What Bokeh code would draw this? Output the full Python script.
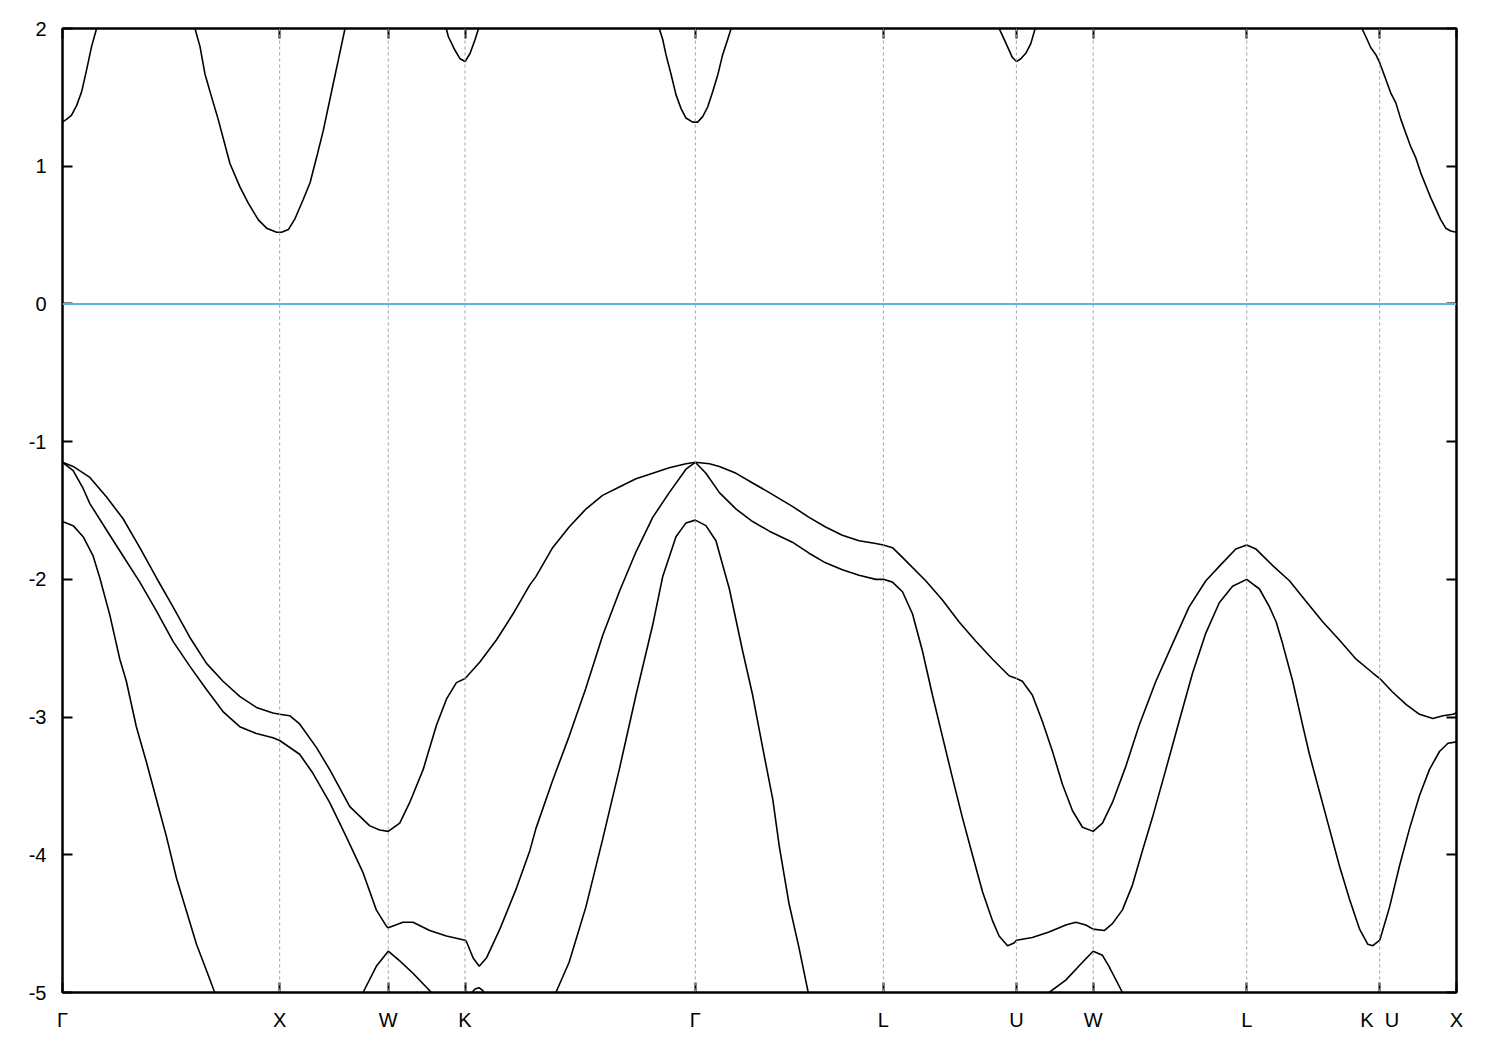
from bokeh.plotting import figure
from bokeh.models import Range1d, FixedTicker, LinearAxis, Span
from bokeh.embed import file_html
from bokeh.resources import INLINE

# high-symmetry points (path distance) and labels
kpt_pos = [0.0, 1.0, 1.5, 1.8536, 2.9142, 3.7802, 4.3926, 4.7462, 5.4533, 6.0657, 6.4193]
kpt_labels = ["Γ", "X", "W", "K", "Γ", "L", "U", "W", "L", "K\u00a0\u00a0U", "X"]
y_ticks = [-5, -4, -3, -2, -1, 0, 1, 2]
fermi_level = 0.0

# valence band 1 (top)
v1_k = [0, 0.049, 0.126, 0.202, 0.279, 0.356, 0.433, 0.509, 0.586, 0.663, 0.739, 0.816, 0.893, 0.969, 1.0,
        1.046, 1.092, 1.169, 1.230, 1.323, 1.415, 1.461, 1.5, 1.553, 1.599, 1.661, 1.722, 1.768, 1.814, 1.854,
        1.922, 1.998, 2.075, 2.152, 2.180, 2.257, 2.333, 2.410, 2.487, 2.564, 2.641, 2.718, 2.794, 2.871, 2.914,
        2.979, 3.025, 3.102, 3.178, 3.255, 3.361, 3.438, 3.514, 3.591, 3.668, 3.745, 3.780, 3.822, 3.868, 3.975,
        4.052, 4.129, 4.206, 4.283, 4.359, 4.393, 4.420, 4.466, 4.512, 4.559, 4.605, 4.651, 4.697, 4.746, 4.789,
        4.835, 4.896, 4.958, 5.035, 5.111, 5.188, 5.265, 5.342, 5.403, 5.453, 5.496, 5.573, 5.650, 5.727, 5.804,
        5.880, 5.957, 6.034, 6.066, 6.126, 6.188, 6.249, 6.310, 6.357, 6.403, 6.419]
v1_e = [-1.15, -1.18, -1.26, -1.40, -1.56, -1.77, -1.99, -2.20, -2.42, -2.61, -2.74, -2.85, -2.93, -2.97, -2.98,
        -2.99, -3.05, -3.22, -3.38, -3.65, -3.79, -3.82, -3.83, -3.77, -3.62, -3.38, -3.06, -2.87, -2.75, -2.72,
        -2.60, -2.44, -2.25, -2.04, -1.98, -1.77, -1.62, -1.49, -1.39, -1.33, -1.27, -1.23, -1.19, -1.16, -1.15,
        -1.16, -1.18, -1.23, -1.30, -1.37, -1.47, -1.55, -1.62, -1.68, -1.72, -1.74, -1.75, -1.77, -1.84, -2.01,
        -2.15, -2.31, -2.45, -2.58, -2.70, -2.72, -2.74, -2.84, -3.03, -3.25, -3.49, -3.68, -3.80, -3.83, -3.77,
        -3.62, -3.36, -3.06, -2.74, -2.47, -2.20, -2.01, -1.88, -1.78, -1.75, -1.78, -1.90, -2.01, -2.16, -2.31,
        -2.44, -2.58, -2.68, -2.72, -2.82, -2.91, -2.98, -3.01, -2.99, -2.98, -2.97]

# valence band 2
v2_k = [0, 0.049, 0.095, 0.126, 0.202, 0.279, 0.356, 0.433, 0.509, 0.586, 0.663, 0.739, 0.816, 0.893, 0.969, 1.0,
        1.092, 1.154, 1.230, 1.307, 1.384, 1.445, 1.492, 1.5, 1.568, 1.614, 1.691, 1.768, 1.854, 1.860, 1.891,
        1.919, 1.952, 2.014, 2.091, 2.152, 2.180, 2.257, 2.333, 2.410, 2.487, 2.564, 2.641, 2.718, 2.794, 2.871,
        2.914, 2.963, 3.025, 3.102, 3.178, 3.255, 3.361, 3.438, 3.514, 3.591, 3.668, 3.745, 3.780, 3.822, 3.868,
        3.914, 3.960, 4.006, 4.052, 4.098, 4.144, 4.190, 4.237, 4.283, 4.313, 4.352, 4.382, 4.393, 4.466, 4.543,
        4.620, 4.666, 4.712, 4.746, 4.797, 4.835, 4.881, 4.927, 4.973, 5.019, 5.081, 5.142, 5.204, 5.265, 5.327,
        5.388, 5.453, 5.512, 5.558, 5.589, 5.619, 5.665, 5.711, 5.742, 5.788, 5.834, 5.880, 5.926, 5.973, 6.011,
        6.034, 6.066, 6.111, 6.157, 6.203, 6.249, 6.295, 6.341, 6.380, 6.419]
v2_e = [-1.15, -1.21, -1.34, -1.45, -1.64, -1.83, -2.02, -2.23, -2.45, -2.63, -2.80, -2.96, -3.07, -3.12, -3.15, -3.17,
        -3.27, -3.41, -3.62, -3.87, -4.13, -4.40, -4.52, -4.53, -4.49, -4.49, -4.55, -4.59, -4.62, -4.63, -4.75,
        -4.81, -4.75, -4.54, -4.24, -3.97, -3.81, -3.46, -3.14, -2.79, -2.41, -2.09, -1.80, -1.55, -1.37, -1.20,
        -1.15, -1.23, -1.37, -1.49, -1.58, -1.65, -1.73, -1.81, -1.88, -1.93, -1.97, -2.00, -2.00, -2.02, -2.09,
        -2.25, -2.52, -2.84, -3.14, -3.44, -3.73, -4.00, -4.27, -4.48, -4.59, -4.66, -4.64, -4.62, -4.60, -4.56,
        -4.51, -4.49, -4.51, -4.54, -4.55, -4.50, -4.40, -4.22, -3.97, -3.73, -3.38, -3.03, -2.68, -2.39, -2.17,
        -2.05, -2.00, -2.07, -2.20, -2.31, -2.47, -2.74, -3.06, -3.27, -3.54, -3.81, -4.08, -4.32, -4.54, -4.65,
        -4.66, -4.62, -4.38, -4.08, -3.81, -3.57, -3.38, -3.25, -3.19, -3.18]

# valence band 3 (split-off), two visible pieces
v3a_k = [0, 0.049, 0.095, 0.141, 0.172, 0.218, 0.264, 0.294, 0.340, 0.387, 0.433, 0.479, 0.525, 0.571, 0.617, 0.663, 0.701, 0.74]
v3a_e = [-1.58, -1.61, -1.69, -1.83, -1.99, -2.26, -2.58, -2.74, -3.07, -3.33, -3.60, -3.87, -4.17, -4.41, -4.65, -4.84, -5.0, -5.15]
v3b_k = [2.24, 2.272, 2.333, 2.410, 2.487, 2.564, 2.641, 2.718, 2.764, 2.825, 2.871, 2.914, 2.963, 3.009, 3.071, 3.132,
         3.178, 3.224, 3.271, 3.301, 3.345, 3.391, 3.434, 3.46]
v3b_e = [-5.1, -5.0, -4.78, -4.38, -3.89, -3.38, -2.84, -2.33, -1.98, -1.69, -1.59, -1.57, -1.61, -1.72, -2.07, -2.52,
         -2.84, -3.22, -3.60, -3.94, -4.35, -4.67, -5.0, -5.15]

# valence band 4, pieces that reach above -5 eV
v4a_k = [1.35, 1.384, 1.445, 1.5, 1.553, 1.614, 1.699, 1.75]
v4a_e = [-5.1, -5.0, -4.81, -4.70, -4.77, -4.86, -5.0, -5.1]
v4b_k = [1.87, 1.885, 1.90, 1.918, 1.935, 1.945]
v4b_e = [-5.04, -5.0, -4.975, -4.965, -4.985, -5.02]
v4c_k = [4.50, 4.543, 4.620, 4.697, 4.746, 4.789, 4.819, 4.881, 4.91]
v4c_e = [-5.1, -5.0, -4.91, -4.78, -4.70, -4.73, -4.81, -5.0, -5.1]

# conduction band pieces below 2 eV
c_a_k = [0, 0.018, 0.041, 0.065, 0.088, 0.111, 0.134, 0.157, 0.18]
c_a_e = [1.32, 1.34, 1.37, 1.44, 1.54, 1.70, 1.87, 2.0, 2.13]
c_b_k = [0.58, 0.610, 0.633, 0.656, 0.687, 0.717, 0.771, 0.817, 0.856, 0.902, 0.940, 0.986, 1.0, 1.009, 1.040,
         1.071, 1.109, 1.140, 1.171, 1.201, 1.240, 1.270, 1.301, 1.32]
c_b_e = [2.1, 2.0, 1.87, 1.67, 1.50, 1.34, 1.02, 0.85, 0.73, 0.61, 0.55, 0.52, 0.52, 0.52, 0.54,
         0.62, 0.76, 0.88, 1.07, 1.26, 1.55, 1.77, 2.0, 2.13]
c_c_k = [1.75, 1.767, 1.777, 1.808, 1.831, 1.854, 1.877, 1.900, 1.916, 1.93]
c_c_e = [2.06, 2.0, 1.94, 1.84, 1.78, 1.76, 1.82, 1.92, 2.0, 2.06]
c_d_k = [2.73, 2.748, 2.764, 2.779, 2.802, 2.825, 2.848, 2.871, 2.902, 2.914, 2.925, 2.948, 2.971, 2.994, 3.017,
         3.040, 3.063, 3.079, 3.095]
c_d_e = [2.07, 2.0, 1.92, 1.81, 1.67, 1.52, 1.42, 1.35, 1.32, 1.32, 1.32, 1.36, 1.43, 1.54, 1.66,
         1.81, 1.92, 2.0, 2.07]
c_e_k = [4.30, 4.313, 4.328, 4.351, 4.374, 4.393, 4.413, 4.436, 4.459, 4.479, 4.49]
c_e_e = [2.04, 2.0, 1.95, 1.87, 1.79, 1.76, 1.78, 1.82, 1.89, 2.0, 2.05]
c_f_k = [5.97, 5.984, 6.002, 6.025, 6.048, 6.066, 6.094, 6.117, 6.140, 6.163, 6.186, 6.209, 6.232, 6.255, 6.278,
         6.301, 6.324, 6.347, 6.370, 6.393, 6.419]
c_f_e = [2.04, 2.0, 1.94, 1.86, 1.81, 1.75, 1.63, 1.53, 1.46, 1.34, 1.24, 1.14, 1.06, 0.95, 0.86,
         0.77, 0.69, 0.61, 0.55, 0.53, 0.52]

bands = [(v1_k, v1_e), (v2_k, v2_e), (v3a_k, v3a_e), (v3b_k, v3b_e), (v4a_k, v4a_e), (v4b_k, v4b_e),
         (v4c_k, v4c_e), (c_a_k, c_a_e), (c_b_k, c_b_e), (c_c_k, c_c_e), (c_d_k, c_d_e), (c_e_k, c_e_e),
         (c_f_k, c_f_e)]

FONT = "Liberation Sans"
FS = "20px"

p = figure(width=1484, height=1034, output_backend="svg", toolbar_location=None,
           x_range=Range1d(kpt_pos[0], kpt_pos[-1]), y_range=Range1d(y_ticks[0], y_ticks[-1]),
           min_border_left=62, min_border_right=28, min_border_top=28, min_border_bottom=42)
p.xgrid.visible = False
p.ygrid.visible = False
p.outline_line_color = "black"
p.outline_line_width = 2
p.background_fill_color = "white"
p.border_fill_color = "white"

# vertical dashed lines at interior high-symmetry points
for kp in kpt_pos[1:-1]:
    p.add_layout(Span(location=kp, dimension="height", line_color="#a0a0a0",
                      line_width=1, line_dash="3 3"))

# Fermi level
p.add_layout(Span(location=fermi_level, dimension="width", line_color="#56b4e9", line_width=2))

for kk, ee in bands:
    p.line(kk, ee, line_color="black", line_width=1.6)

x_overrides = {kp: lab for kp, lab in zip(kpt_pos, kpt_labels)}
y_overrides = {t: str(t) for t in y_ticks}


def style_axis(ax, ticks, overrides=None, show_labels=True):
    ax.ticker = FixedTicker(ticks=ticks)
    ax.major_tick_in = 10
    ax.major_tick_out = 0
    ax.minor_tick_line_color = None
    ax.major_tick_line_width = 2
    ax.major_tick_line_color = "black"
    ax.axis_line_width = 2
    ax.axis_line_color = "black"
    ax.major_label_text_font = FONT
    ax.major_label_text_font_size = FS
    ax.major_label_text_color = "black"
    if overrides:
        ax.major_label_overrides = overrides
    if not show_labels:
        ax.major_label_overrides = {t: "" for t in ticks}
        ax.major_label_text_color = None
        ax.major_label_standoff = 0


style_axis(p.xaxis[0], kpt_pos, x_overrides)
p.xaxis[0].major_label_standoff = 16
style_axis(p.yaxis[0], y_ticks, y_overrides)
p.yaxis[0].major_label_standoff = 16

top = LinearAxis()
style_axis(top, kpt_pos, show_labels=False)
p.add_layout(top, "above")
right = LinearAxis()
style_axis(right, y_ticks, show_labels=False)
p.add_layout(right, "right")

open("out.html", "w").write(file_html(p, INLINE))
